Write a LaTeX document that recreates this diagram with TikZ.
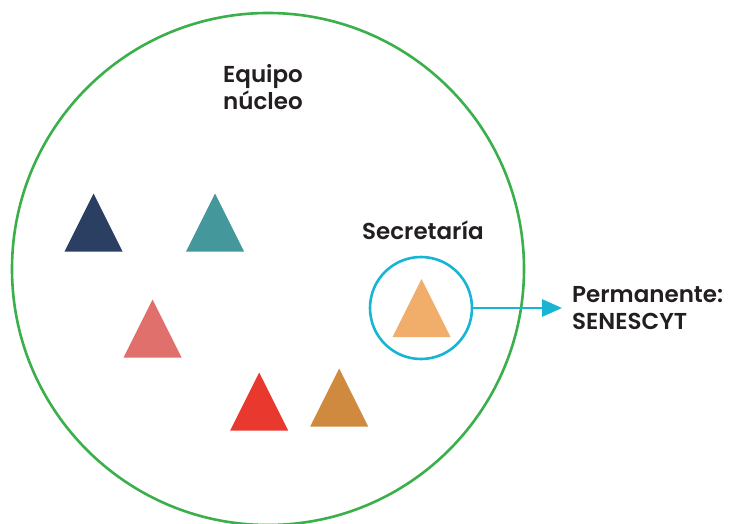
\documentclass[tikz,border=0pt]{standalone}
\usepackage{fontspec}
\setmainfont{Poppins}[BoldFont={Poppins SemiBold}]
\usetikzlibrary{arrows.meta}
\definecolor{txt}{HTML}{231F20}
\definecolor{grn}{HTML}{3AAF4A}
\definecolor{cyn}{HTML}{17B5D3}
\definecolor{navy}{HTML}{2A3F62}
\definecolor{teal2}{HTML}{44979B}
\definecolor{pink2}{HTML}{DF706B}
\definecolor{red2}{HTML}{E9392F}
\definecolor{ochre}{HTML}{D08A3F}
\definecolor{lor}{HTML}{F0AE6A}
\tikzset{
  lbl/.style={font=\fontsize{23}{27.5}\selectfont\bfseries, text=txt, inner sep=0pt, anchor=base west, align=left},
  tri/.pic={\fill[#1] (-29,29) -- (0,-29) -- (29,29) -- cycle;}
}
\begin{document}
\begin{tikzpicture}[x=1pt,y=-1pt]
\useasboundingbox (0,0) rectangle (731,524);
\node[draw=grn, line width=2.6pt, circle, minimum size=512pt, inner sep=0pt] (team) at (268,269) {};
\node[lbl] (equipo) at (223,110) {Equipo\\núcleo};
\node[lbl] (secre) at (362,239) {Secretaría};
\node[lbl] (perm) at (572,329.5) {Permanente:\\SENESCYT};
\pic at (93.5,222.5) {tri=navy};
\pic at (215,222.5) {tri=teal2};
\pic at (152.5,328.5) {tri=pink2};
\pic at (259.2,401.5) {tri=red2};
\pic at (339.2,397.5) {tri=ochre};
\pic at (421.5,308) {tri=lor};
\node[draw=cyn, line width=2.6pt, circle, minimum size=102pt, inner sep=0pt] (sec) at (421,308) {};
\coordinate (tip) at (562,308);
\draw[cyn, line width=2.8pt, -{Triangle[length=20pt,width=17pt]}] (sec.east) -- (tip);
\end{tikzpicture}
\end{document}
